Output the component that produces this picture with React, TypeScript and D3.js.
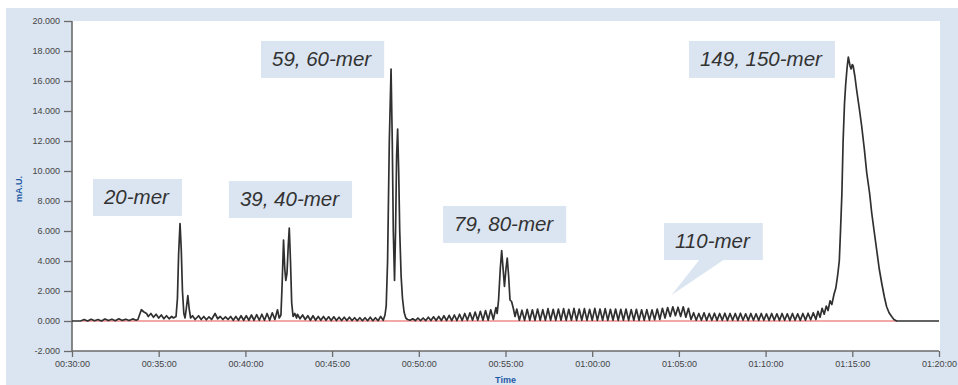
import { useEffect, useRef } from 'react';
import * as d3 from 'd3';

// chromatogram trace: [minutes, mA.U. (thousands)]
const trace: [number, number][] = [
  [30.0, 0], [30.5, 0], [30.7, 0.1], [30.9, 0.0], [31.1, 0.12], [31.3, 0.02], [31.5, 0.1], [31.7, 0.0],
  [31.9, 0.14], [32.1, 0.03], [32.3, 0.12], [32.5, 0.02], [32.7, 0.15], [32.9, 0.04], [33.1, 0.12],
  [33.3, 0.03], [33.5, 0.14], [33.7, 0.05], [33.8, 0.1], [34.0, 0.75], [34.15, 0.6], [34.3, 0.5],
  [34.4, 0.3], [34.55, 0.5], [34.7, 0.25], [34.85, 0.45], [35.0, 0.2], [35.15, 0.4], [35.3, 0.15],
  [35.45, 0.35], [35.6, 0.15], [35.75, 0.3], [35.85, 0.2],
  // 20-mer
  [36.0, 0.3], [36.08, 1.5], [36.15, 4.5], [36.23, 6.5], [36.3, 4.8], [36.37, 2.0], [36.45, 0.5],
  [36.52, 0.2], [36.6, 0.9], [36.68, 1.7], [36.76, 0.8], [36.84, 0.2], [36.95, 0.35], [37.1, 0.1],
  [37.3, 0.35], [37.45, 0.1], [37.6, 0.3], [37.75, 0.08], [37.9, 0.28], [38.05, 0.1], [38.25, 0.5],
  [38.4, 0.15], [38.55, 0.3], [38.7, 0.1], [38.85, 0.28], [39.0, 0.1], [39.15, 0.3], [39.3, 0.05],
  [39.45, 0.3], [39.6, 0.05], [39.75, 0.35], [39.9, 0.05], [40.05, 0.35], [40.2, 0.05], [40.35, 0.4],
  [40.5, 0.05], [40.65, 0.42], [40.8, 0.05], [40.95, 0.45], [41.1, 0.05], [41.25, 0.5], [41.4, 0.05],
  [41.55, 0.55], [41.7, 0.1], [41.85, 0.75], [41.95, 0.2],
  // 39, 40-mer
  [42.05, 0.4], [42.12, 2.5], [42.2, 5.4], [42.27, 3.5], [42.33, 2.7], [42.4, 3.2], [42.47, 5.0],
  [42.53, 6.2], [42.6, 4.0], [42.67, 1.2], [42.75, 0.3], [42.85, 0.5], [42.95, 0.2],
  [43.0, 0.45], [43.15, 0.15], [43.3, 0.4], [43.45, 0.1], [43.6, 0.35], [43.75, 0.05], [43.9, 0.35],
  [44.05, 0.05], [44.2, 0.3], [44.35, 0.05], [44.5, 0.3], [44.65, 0.05], [44.8, 0.28], [44.95, 0.03],
  [45.1, 0.28], [45.25, 0.03], [45.4, 0.25], [45.55, 0.03], [45.7, 0.25], [45.85, 0.03], [46.0, 0.25],
  [46.15, 0.03], [46.3, 0.22], [46.45, 0.02], [46.6, 0.22], [46.75, 0.02], [46.9, 0.22], [47.05, 0.02],
  [47.2, 0.25], [47.35, 0.02], [47.5, 0.22], [47.65, 0.02], [47.8, 0.3], [47.95, 0.05],
  // 59, 60-mer
  [48.05, 0.4], [48.12, 1.0], [48.2, 4.0], [48.3, 12.0], [48.4, 16.8], [48.47, 12.0], [48.53, 6.0],
  [48.6, 2.7], [48.66, 6.0], [48.72, 11.0], [48.78, 12.8], [48.84, 10.0], [48.9, 6.0], [48.98, 3.0],
  [49.06, 1.5], [49.15, 0.6], [49.25, 0.2],
  [49.35, 0.1], [49.5, 0.05], [49.65, 0.15], [49.8, 0.03], [49.95, 0.2], [50.1, 0.03], [50.25, 0.2],
  [50.4, 0.03], [50.55, 0.25], [50.7, 0.03], [50.85, 0.28], [51.0, 0.03], [51.15, 0.3], [51.3, 0.03],
  [51.45, 0.35], [51.6, 0.03], [51.75, 0.38], [51.9, 0.03], [52.05, 0.4], [52.2, 0.03], [52.35, 0.45],
  [52.5, 0.03], [52.65, 0.5], [52.8, 0.05], [52.95, 0.55], [53.1, 0.05], [53.25, 0.6], [53.4, 0.05],
  [53.55, 0.65], [53.7, 0.05], [53.85, 0.7], [54.0, 0.05], [54.15, 0.75], [54.3, 0.1], [54.45, 0.9],
  [54.52, 0.5],
  // 79, 80-mer
  [54.6, 1.4], [54.7, 3.5], [54.78, 4.7], [54.86, 3.5], [54.94, 2.3], [55.02, 3.4], [55.1, 4.2],
  [55.18, 3.0], [55.26, 1.4], [55.35, 1.3], [55.45, 0.85], [55.55, 0.3],
  [55.65, 0.8], [55.8, 0.05], [55.95, 0.72], [56.1, 0.04], [56.25, 0.78], [56.4, 0.05], [56.55, 0.75],
  [56.7, 0.04], [56.85, 0.8], [57.0, 0.05], [57.15, 0.76], [57.3, 0.04], [57.45, 0.82], [57.6, 0.05],
  [57.75, 0.78], [57.9, 0.04], [58.05, 0.8], [58.2, 0.05], [58.35, 0.82], [58.5, 0.04], [58.65, 0.78],
  [58.8, 0.05], [58.95, 0.84], [59.1, 0.04], [59.25, 0.8], [59.4, 0.05], [59.55, 0.82], [59.7, 0.04],
  [59.85, 0.78], [60.0, 0.05], [60.15, 0.84], [60.3, 0.04], [60.45, 0.8], [60.6, 0.05], [60.75, 0.82],
  [60.9, 0.04], [61.05, 0.78], [61.2, 0.05], [61.35, 0.8], [61.5, 0.04], [61.65, 0.78], [61.8, 0.05],
  [61.95, 0.8], [62.1, 0.04], [62.25, 0.76], [62.4, 0.05], [62.55, 0.78], [62.7, 0.04], [62.85, 0.75],
  [63.0, 0.05], [63.15, 0.76], [63.3, 0.06], [63.45, 0.74], [63.6, 0.08], [63.75, 0.8], [63.9, 0.1],
  // 110-mer
  [64.05, 0.85], [64.2, 0.2], [64.35, 0.9], [64.5, 0.3], [64.65, 0.95], [64.8, 0.35], [64.95, 0.92],
  [65.1, 0.3], [65.25, 0.95], [65.4, 0.25], [65.55, 0.85], [65.7, 0.1],
  [65.85, 0.55], [66.0, 0.05], [66.15, 0.5], [66.3, 0.05], [66.45, 0.55], [66.6, 0.04], [66.75, 0.5],
  [66.9, 0.05], [67.05, 0.52], [67.2, 0.04], [67.35, 0.5], [67.5, 0.05], [67.65, 0.52], [67.8, 0.04],
  [67.95, 0.5], [68.1, 0.05], [68.25, 0.5], [68.4, 0.04], [68.55, 0.52], [68.7, 0.05], [68.85, 0.48],
  [69.0, 0.04], [69.15, 0.5], [69.3, 0.05], [69.45, 0.48], [69.6, 0.04], [69.75, 0.5], [69.9, 0.05],
  [70.05, 0.48], [70.2, 0.04], [70.35, 0.5], [70.5, 0.05], [70.65, 0.48], [70.8, 0.04], [70.95, 0.5],
  [71.1, 0.05], [71.25, 0.48], [71.4, 0.04], [71.55, 0.5], [71.7, 0.05], [71.85, 0.48], [72.0, 0.04],
  [72.15, 0.5], [72.3, 0.06], [72.45, 0.52], [72.6, 0.08], [72.75, 0.55], [72.9, 0.1], [73.02, 0.65],
  [73.14, 0.25], [73.26, 0.85], [73.38, 0.45], [73.5, 1.0], [73.6, 0.7], [73.72, 1.35], [73.82, 1.1],
  // 149, 150-mer
  [73.95, 1.8], [74.05, 2.2], [74.15, 3.0], [74.25, 4.0], [74.32, 6.0], [74.4, 8.5], [74.47, 12.0],
  [74.55, 14.5], [74.62, 15.8], [74.7, 16.9], [74.77, 17.6], [74.82, 17.3], [74.87, 17.0], [74.93, 16.8],
  [75.0, 17.1], [75.05, 17.0], [75.15, 16.3], [75.25, 15.4], [75.4, 14.2], [75.54, 13.0], [75.7, 11.4],
  [75.83, 9.9], [76.0, 8.5], [76.12, 7.2], [76.27, 5.9], [76.41, 4.7], [76.55, 3.5], [76.7, 2.5],
  [76.85, 1.6], [76.98, 0.95], [77.12, 0.55], [77.27, 0.3], [77.4, 0.1], [77.56, 0], [80.0, 0],
];

// red zero baseline extent (minutes)
const baseline = [30.6, 77.6];

const xTicks = [30, 35, 40, 45, 50, 55, 60, 65, 70, 75, 80];
const yTicks = [-2, 0, 2, 4, 6, 8, 10, 12, 14, 16, 18, 20];

// peak labels, anchored at their box's top-left corner (minutes, mA.U.)
const labels = ['20-mer', '39, 40-mer', '59, 60-mer', '79, 80-mer', '110-mer', '149, 150-mer'];
const labelTime = [31.21, 39.05, 40.9, 51.4, 64.14, 65.58];
const labelValue = [9.47, 9.33, 18.67, 7.67, 6.53, 18.67];
// callout pointer for 110-mer
const pointer = { label: '110-mer', time: 64.58, value: 1.73 };

const fmtTime = (m: number) => {
  const h = Math.floor(m / 60);
  const mm = m % 60;
  return `${String(h).padStart(2, '0')}:${String(mm).padStart(2, '0')}:00`;
};

export default function App() {
  const svgRef = useRef<SVGSVGElement>(null);
  const width = 958;
  const height = 385;

  useEffect(() => {
    if (!svgRef.current) return;
    const svg = d3.select(svgRef.current);
    svg.selectAll('*').remove();

    const panel = '#dbe5f1';
    const x = d3.scaleLinear().domain([30, 80]).range([72, 939]);
    const y = d3.scaleLinear().domain([-2, 20]).range([351, 21]);

    svg.append('rect').attr('x', 6).attr('y', 8).attr('width', width - 6).attr('height', height - 8).attr('fill', panel);
    svg.append('rect')
      .attr('x', x(30)).attr('y', y(20))
      .attr('width', 940 - x(30)).attr('height', y(-2) - y(20))
      .attr('fill', '#fff');

    // axes
    const axisColor = '#6b6b6b';
    const font = '"Liberation Sans", Arial, sans-serif';
    const yAxis = svg.append('g')
      .attr('transform', `translate(${x(30)},0)`)
      .call(d3.axisLeft(y).tickValues(yTicks).tickSize(8).tickPadding(4).tickFormat(d => (d as number).toFixed(3)));
    const xAxis = svg.append('g')
      .attr('transform', `translate(0,${y(-2)})`)
      .call(d3.axisBottom(x).tickValues(xTicks).tickSize(6).tickPadding(4).tickFormat(d => fmtTime(d as number)));
    [yAxis, xAxis].forEach(a => {
      a.select('.domain').attr('stroke', axisColor).attr('stroke-width', 1.6);
      a.selectAll('.tick line').attr('stroke', axisColor).attr('stroke-width', 1.3);
      a.selectAll('.tick text').attr('fill', '#444').style('font-family', font).style('font-size', '9px');
    });
    yAxis.select('.domain').attr('d', `M0,${y(20)}V${y(-2)}`);
    xAxis.select('.domain').attr('d', `M${x(30)},0H${x(80)}`);

    svg.append('text')
      .attr('transform', `translate(22,${y(8.8)}) rotate(-90)`)
      .attr('text-anchor', 'middle')
      .attr('fill', '#1f5aa6').style('font-family', font).style('font-size', '9px').style('font-weight', 'bold')
      .text('mA.U.');
    svg.append('text')
      .attr('x', x(55)).attr('y', 383)
      .attr('text-anchor', 'middle')
      .attr('fill', '#1f5aa6').style('font-family', font).style('font-size', '9px').style('font-weight', 'bold')
      .text('Time');

    // zero baseline
    svg.append('line')
      .attr('x1', x(baseline[0])).attr('x2', x(baseline[1]))
      .attr('y1', y(0)).attr('y2', y(0))
      .attr('stroke', '#f08a8a').attr('stroke-width', 1.6);

    // trace
    const line = d3.line<[number, number]>().x(d => x(d[0])).y(d => y(d[1]));
    svg.append('path')
      .datum(trace)
      .attr('d', line)
      .attr('fill', 'none')
      .attr('stroke', '#303030')
      .attr('stroke-width', 1.7)
      .attr('stroke-linejoin', 'round');

    // peak label boxes
    labels.forEach((label, i) => {
      const bx = x(labelTime[i]);
      const by = y(labelValue[i]);
      const g = svg.append('g');
      const rect = g.append('rect').attr('fill', panel);
      const t = g.append('text')
        .attr('x', bx + 11).attr('y', by + 25)
        .attr('fill', '#333')
        .style('font-family', font).style('font-size', '20.5px').style('font-style', 'italic')
        .text(label);
      const w = (t.node() as SVGTextElement).getComputedTextLength();
      rect.attr('x', bx).attr('y', by).attr('width', w + 24).attr('height', 37);
      if (label === pointer.label) {
        const bottom = by + 37;
        g.insert('path', 'text')
          .attr('d', `M${bx + 36},${bottom - 1}L${bx + 61},${bottom - 1}L${x(pointer.time)},${y(pointer.value)}Z`)
          .attr('fill', panel);
      }
    });
  }, []);

  return (
    <div style={{ position: 'absolute', left: 0, top: 0 }}>
      <svg ref={svgRef} width={width} height={height} style={{ display: 'block' }} />
    </div>
  );
}
